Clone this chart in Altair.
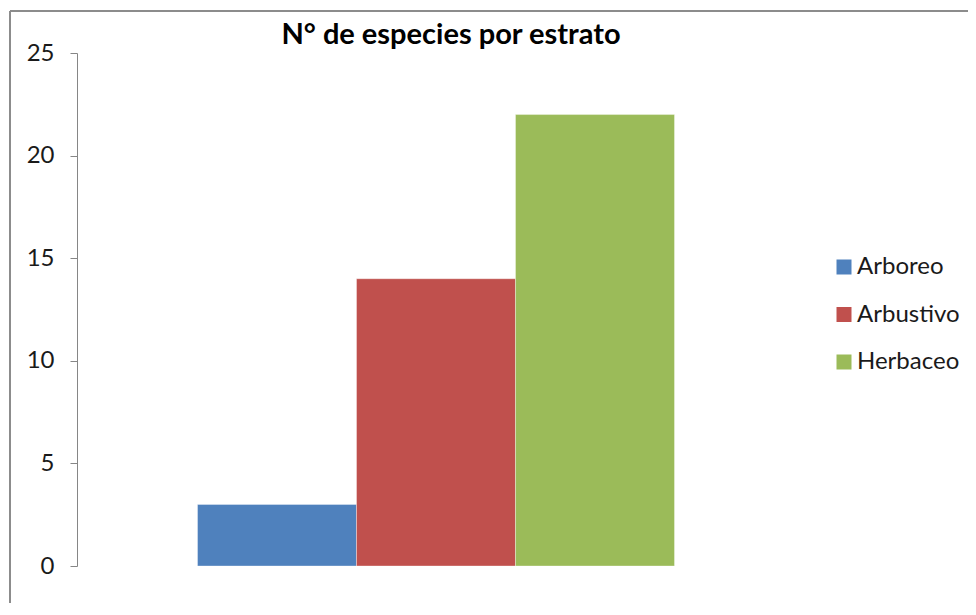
import altair as alt
import pandas as pd

categories = ["Arboreo", "Arbustivo", "Herbaceo"]
values = [3, 14, 22]
colors = ["#4F81BD", "#C0504D", "#9BBB59"]
y_ticks = [0, 5, 10, 15, 20, 25]
title_text = "N° de especies por estrato"

df = pd.DataFrame({"estrato": categories, "especies": values})
frame_df = pd.DataFrame({"k": [0]})

FONT = "Lato"

bars = alt.Chart(df).mark_bar(strokeWidth=1, strokeOpacity=0.35, stroke="white").encode(
    x=alt.X("estrato:N", sort=categories, axis=None,
            scale=alt.Scale(paddingInner=0, paddingOuter=0.758)),
    y=alt.Y("especies:Q", title=None,
            scale=alt.Scale(domain=[0, 25], nice=False),
            axis=alt.Axis(values=y_ticks, grid=False, domainColor="#868686",
                          tickColor="#868686", tickSize=7, labelFontSize=24,
                          labelFont=FONT, labelColor="#1a1a1a", labelPadding=16,
                          domainWidth=1, tickWidth=1)),
    color=alt.Color("estrato:N", sort=categories,
                    scale=alt.Scale(domain=categories, range=colors),
                    legend=alt.Legend(title=None, orient="none", legendX=755, legendY=202,
                                      symbolType="square", symbolSize=225,
                                      symbolStrokeWidth=0, labelFontSize=24,
                                      labelFont=FONT, labelColor="#1a1a1a",
                                      labelOffset=1, rowPadding=23.5, padding=0)),
)

left_rule = alt.Chart(frame_df).mark_rule(color="#8c8c8c", strokeWidth=2).encode(
    x=alt.value(-67), y=alt.value(-42), y2=alt.value(600)
)
top_rule = alt.Chart(frame_df).mark_rule(color="#8c8c8c", strokeWidth=2).encode(
    x=alt.value(-67), x2=alt.value(1000), y=alt.value(-42)
)

chart = alt.layer(left_rule, top_rule, bars).properties(
    width=718, height=513,
    title=alt.TitleParams(title_text, font=FONT, fontSize=29, fontWeight="bold",
                          color="#000000", anchor="middle", dx=15, offset=6, dy=46),
    autosize=alt.AutoSizeParams(type="none"),
    padding={"left": 69, "top": 45, "right": 173, "bottom": 37},
).configure_view(stroke=None)

chart.save("out.html", embed_options={"renderer": "svg", "actions": False})
